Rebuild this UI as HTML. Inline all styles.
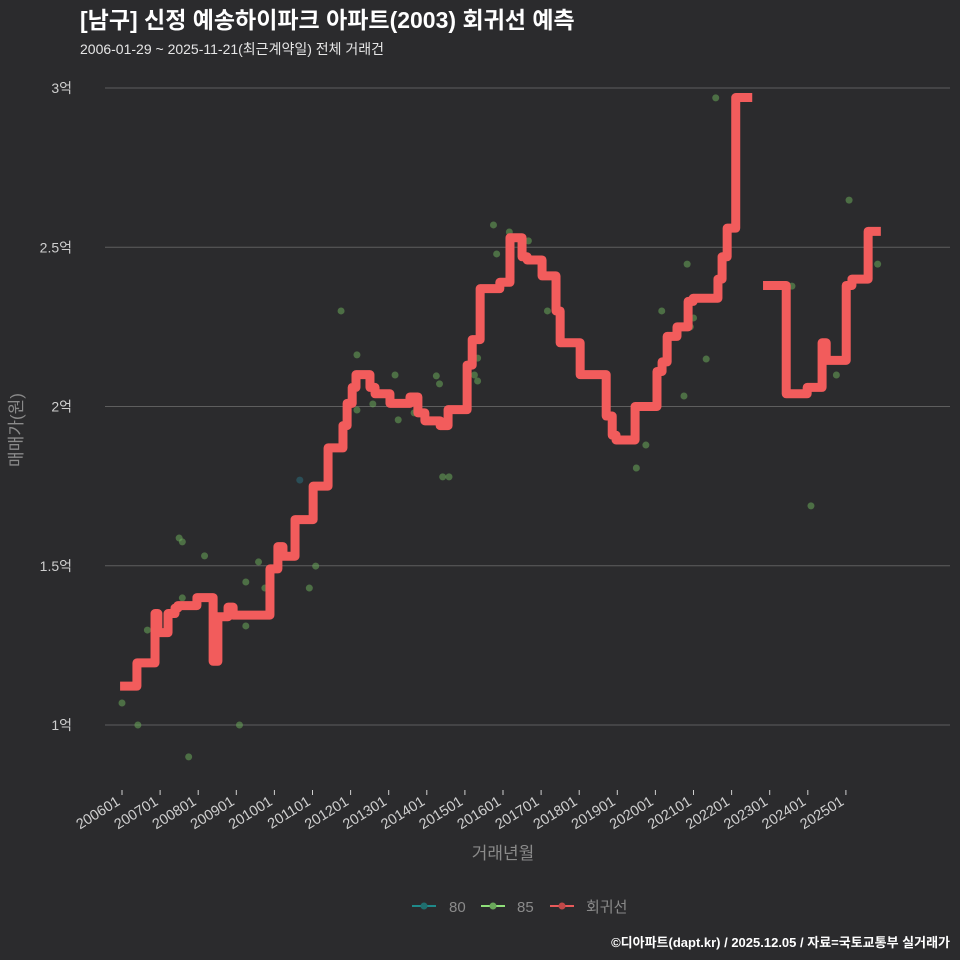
<!DOCTYPE html>
<html><head><meta charset="utf-8"><style>
html,body{margin:0;padding:0;background:#2b2b2d;overflow:hidden;width:960px;height:960px;}
svg{display:block;}
svg text{font-family:"Liberation Sans","Noto Sans CJK KR",sans-serif;}
</style></head><body>
<svg id="chart" width="960" height="960" xmlns="http://www.w3.org/2000/svg">
<rect width="960" height="960" fill="#2b2b2d"/>
<text x="80" y="28" fill="#ffffff" font-size="23" font-weight="bold">[남구] 신정 예송하이파크 아파트(2003) 회귀선 예측</text>
<text x="80" y="54" fill="#e6e6e6" font-size="14">2006-01-29 ~ 2025-11-21(최근계약일) 전체 거래건</text>
<g id="grid"></g><g id="xt"></g><g id="pts"></g><g id="line"></g>
<text transform="translate(22,430) rotate(-90)" text-anchor="middle" fill="#8a8a8a" font-size="17">매매가(원)</text>
<text x="503" y="859" text-anchor="middle" fill="#8a8a8a" font-size="17">거래년월</text>
<g>
<g><line x1="412" y1="906" x2="436" y2="906" stroke="#1f8a8a" stroke-width="2"/><circle cx="424" cy="906" r="3.5" fill="#1f6e6e"/><text x="449" y="912" fill="#8a8a8a" font-size="15">80</text></g>
<g><line x1="481" y1="906" x2="505" y2="906" stroke="#8fe07a" stroke-width="2"/><circle cx="493" cy="906" r="3.5" fill="#6aa85a"/><text x="517" y="912" fill="#8a8a8a" font-size="15">85</text></g>
<g><line x1="550" y1="906" x2="574" y2="906" stroke="#e85a5a" stroke-width="2"/><circle cx="562" cy="906" r="3.5" fill="#c04848"/><text x="586" y="912" fill="#8a8a8a" font-size="15">회귀선</text></g>
</g>
<text x="950" y="947" text-anchor="end" fill="#ffffff" font-size="13" font-weight="bold">©디아파트(dapt.kr) / 2025.12.05 / 자료=국토교통부 실거래가</text>
</svg>
<script>
const yTicks=[1,1.5,2,2.5,3];
const yTickLabels=["1억","1.5억","2억","2.5억","3억"];
const xTickLabels=["200601","200701","200801","200901","201001","201101","201201","201301","201401","201501","201601","201701","201801","201901","202001","202101","202201","202301","202401","202501"];
const ptMonths=[0,5,8,18,19,19,21,26,37,39,39,43,45,56,59,61,69,74,74,79,86,87,92,99,100,101,103,111,112,112,117,118,122,128,134,162,165,170,178,179,180,184,177,187,211,217,225,229,238];
const ptValues=[1.069,1.0,1.298,1.587,1.575,1.399,0.90,1.531,1.0,1.449,1.311,1.512,1.43,1.769,1.43,1.499,2.30,2.162,1.989,2.008,2.099,1.958,1.98,2.096,2.071,1.779,1.779,2.099,2.152,2.08,2.57,2.479,2.548,2.52,2.30,1.807,1.879,2.30,2.447,2.25,2.278,2.149,2.033,2.969,2.378,1.688,2.099,2.648,2.447];
const ptArea=[85,85,85,85,85,85,85,85,85,85,85,85,85,80,85,85,85,85,85,85,85,85,85,85,85,85,85,85,85,85,85,85,85,85,85,85,85,85,85,85,85,85,85,85,85,85,85,85,85];
const lineMonths=[-0.6,4.7,4.7,8.8,10.4,11.3,13.5,14.5,16.7,17.6,23,23.6,26.8,28.7,30.2,33.4,35,46,46.6,48.2,49.1,50.7,52.9,54.5,59.2,60.2,63.3,64.9,68.7,69.6,70.9,72.5,73.7,75.9,78.1,79.7,82.2,84.4,89.1,90.7,93.2,95.4,98,100.2,101.7,102.7,107.1,108.7,110.3,112.8,117.5,119,120.6,122.2,124.1,126,127.6,131,132.3,134.8,136.7,138,143,144.3,151.2,152.5,154.4,155.6,160,161.6,167.9,168.5,170.1,171.7,173.3,174.8,176.7,178.3,179.9,186.2,187.7,189,190.6,192.5,193.3,198.5,null,201.9,207.9,209.2,214.2,215.8,219.2,220.5,221.8,226.8,228.1,229.9,234,235,239];
const lineValues=[1.122,1.122,1.195,1.195,1.35,1.29,1.29,1.35,1.367,1.375,1.375,1.40,1.40,1.20,1.34,1.37,1.345,1.345,1.49,1.49,1.56,1.53,1.53,1.645,1.645,1.75,1.75,1.87,1.87,1.94,2.01,2.06,2.10,2.10,2.06,2.04,2.04,2.01,2.01,2.03,1.98,1.955,1.955,1.94,1.94,1.99,1.99,2.13,2.21,2.37,2.37,2.39,2.39,2.53,2.53,2.47,2.46,2.46,2.41,2.41,2.30,2.20,2.20,2.10,2.10,1.97,1.91,1.895,1.895,2.00,2.00,2.11,2.14,2.22,2.22,2.25,2.25,2.33,2.34,2.34,2.40,2.47,2.56,2.56,2.97,2.97,null,2.38,2.38,2.04,2.04,2.06,2.06,2.20,2.145,2.145,2.38,2.40,2.40,2.55,2.55];
const NS="http://www.w3.org/2000/svg";
const X=m=>122+m*38.1/12;
const Y=v=>725-(v-1)*318.5;
function mk(t,a,p){const e=document.createElementNS(NS,t);for(const k in a)e.setAttribute(k,a[k]);p.appendChild(e);return e;}
const grid=document.getElementById('grid');
yTicks.forEach((v,i)=>{
 const l=mk('line',{x1:105,x2:950,y1:Y(v),y2:Y(v),stroke:'#5e5e5e','stroke-width':1},grid);
 
 
 const t=mk('text',{x:72,y:Y(v)+5,'text-anchor':'end',fill:'#cfcfcf','font-size':14},grid);
 t.textContent=yTickLabels[i];
 
 
});
const xt=document.getElementById('xt');
xTickLabels.forEach((s,i)=>{
 const x=X(i*12);
 const tk=mk('line',{x1:x,x2:x,y1:790,y2:795,stroke:'#cfcfcf'},xt);
 
 
 const t=mk('text',{transform:`translate(${x-1},${804}) rotate(-32)`,'text-anchor':'end',fill:'#cfcfcf','font-size':14.5},xt);
 t.textContent=s;
 
 
});
const pts=document.getElementById('pts');
ptMonths.forEach((m,i)=>{
 const c=mk('circle',{cx:X(m),cy:Y(ptValues[i]),r:3.5,fill:ptArea[i]==80?'#2a6b7a':'#6aa85a','fill-opacity':0.55},pts);
 
 
});
const lg=document.getElementById('line');
let seg=[];let prev=null;
function flush(){if(seg.length){const p=mk('polyline',{points:seg.join(' '),fill:'none',stroke:'#f25c5c','stroke-width':9,'stroke-linejoin':'round','stroke-linecap':'butt'},lg);
 
 }seg=[];prev=null;}
lineMonths.forEach((m,i)=>{
 const v=lineValues[i];
 if(m===null||v===null){flush();return;}
 if(prev!==null) seg.push(X(m)+','+Y(prev));
 seg.push(X(m)+','+Y(v));
 prev=v;
});
flush();
</script>
</body></html>
